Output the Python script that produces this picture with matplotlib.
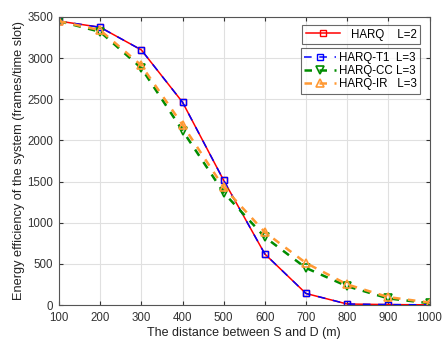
import matplotlib
matplotlib.use("Agg")
import matplotlib.pyplot as plt

plt.rcParams['font.family'] = ['Liberation Sans', 'DejaVu Sans']

distance = [100, 200, 300, 400, 500, 600, 700, 800, 900, 1000]
harq_l2 = [3450, 3375, 3100, 2465, 1515, 620, 140, 12, 5, 2]
harq_t1 = [3450, 3375, 3100, 2465, 1515, 620, 140, 12, 5, 2]
harq_cc = [3450, 3320, 2880, 2120, 1365, 825, 450, 228, 80, 22]
harq_ir = [3450, 3340, 2912, 2190, 1430, 885, 510, 250, 96, 30]

labels = ['HARQ    L=2', 'HARQ-T1  L=3', 'HARQ-CC L=3', 'HARQ-IR   L=3']

fig = plt.figure(figsize=(4.43, 3.39), dpi=100)
left, right, top, bottom = 59, 429.5, 17, 305
ax = fig.add_axes([left/443, 1 - bottom/339, (right-left)/443, (bottom-top)/339])

l1, = ax.plot(distance, harq_l2, color='#ff0000', lw=1.1, marker='s', ms=5,
              mfc='none', mec='#ff0000', mew=1.0)
l2, = ax.plot(distance, harq_t1, color='#0000ff', lw=1.1, ls=(0, (5, 5)), marker='s', ms=5,
              mfc='none', mec='#0000ff', mew=1.0)
l3, = ax.plot(distance, harq_cc, color='#008c00', lw=1.8, ls=(0, (3, 3)), marker='v', ms=6,
              mfc='none', mec='#008c00', mew=1.2)
l4, = ax.plot(distance, harq_ir, color='#ff9933', lw=1.8, ls=(0, (3, 3)), marker='^', ms=6,
              mfc='none', mec='#ff9933', mew=1.2)

ax.set_xlim(100, 1000)
ax.set_ylim(0, 3500)
ax.set_xticks(distance)
ax.set_yticks(range(0, 3501, 500))
ax.grid(True, color='#e0e0e0', lw=0.8)
ax.tick_params(direction='in', labelsize=8.3, colors='#333333', length=3, top=True, right=True,
               labeltop=False, labelright=False)
ax.tick_params(axis='x', pad=5)
ax.tick_params(axis='y', pad=4)
for s in ax.spines.values():
    s.set_color('#555555')
    s.set_linewidth(0.8)
ax.set_xlabel('The distance between S and D (m)', fontsize=9, color='#222222', labelpad=2)
ax.set_ylabel('Energy efficiency of the system (frames/time slot)', fontsize=9.2, color='#222222', labelpad=2)

ax_w = right - left
leg1 = ax.legend([l1], [labels[0]], loc='upper right', bbox_to_anchor=((420-left)/ax_w, 0.972),
                 borderaxespad=0, fontsize=8.3, frameon=True, fancybox=False, edgecolor='#444444',
                 handlelength=3.0, borderpad=0.3, labelspacing=0.2, handletextpad=0.9)
ax.add_artist(leg1)
leg2 = ax.legend([l2, l3, l4], labels[1:], loc='upper right', bbox_to_anchor=((420-left)/ax_w, 0.892),
                 borderaxespad=0, fontsize=8.3, frameon=True, fancybox=False, edgecolor='#444444',
                 handlelength=2.8, borderpad=0.3, labelspacing=0.12, handletextpad=0.2)
for lg in (leg1, leg2):
    lg.get_frame().set_linewidth(0.8)

fig.savefig('out.png', dpi=100)
